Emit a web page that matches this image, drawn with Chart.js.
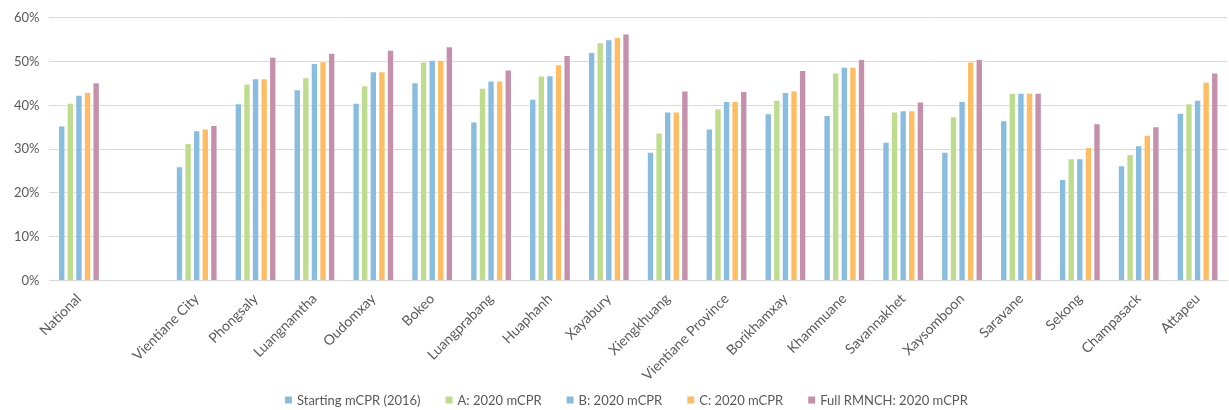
<!DOCTYPE html>
<html>
<head>
<meta charset="utf-8">
<script src="https://cdn.jsdelivr.net/npm/chart.js@4"></script>
<style>
  html, body { margin: 0; padding: 0; background: #ffffff; }
  #wrap { width: 1229px; height: 410px; }
</style>
</head>
<body>
<div id="wrap"><canvas id="c" width="1229" height="410"></canvas></div>
<script>
// Provinces of Lao PDR (blank slot separates the national figure)
const categories = ['National', '', 'Vientiane City', 'Phongsaly', 'Luangnamtha', 'Oudomxay', 'Bokeo',
  'Luangprabang', 'Huaphanh', 'Xayabury', 'Xiengkhuang', 'Vientiane Province', 'Borikhamxay',
  'Khammuane', 'Savannakhet', 'Xaysomboon', 'Saravane', 'Sekong', 'Champasack', 'Attapeu'];

// mCPR values, percent
const startingMcpr2016 = [35.4, null, 26.1, 40.5, 43.7, 40.6, 45.3, 36.3, 41.5, 52.2, 29.4, 34.7, 38.2, 37.8, 31.7, 29.4, 36.6, 23.2, 26.3, 38.3];
const scenarioA2020    = [40.6, null, 31.4, 45.0, 46.4, 44.6, 50.0, 44.0, 46.8, 54.4, 33.8, 39.3, 41.3, 47.5, 38.6, 37.5, 42.9, 27.9, 28.9, 40.5];
const scenarioB2020    = [42.4, null, 34.3, 46.2, 49.7, 47.8, 50.4, 45.7, 46.9, 55.1, 38.6, 41.0, 43.05, 48.8, 38.9, 41.0, 42.9, 27.9, 30.9, 41.3];
const scenarioC2020    = [43.05, null, 34.7, 46.2, 50.1, 47.8, 50.4, 45.7, 49.4, 55.6, 38.6, 41.0, 43.4, 48.8, 38.9, 50.0, 42.9, 30.5, 33.3, 45.4];
const fullRmnch2020    = [45.25, null, 35.5, 51.1, 52.0, 52.7, 53.5, 48.2, 51.5, 56.4, 43.4, 43.3, 48.1, 50.6, 40.9, 50.6, 42.9, 35.9, 35.2, 47.5];

const seriesNames = ['Starting mCPR (2016)', 'A: 2020 mCPR', 'B: 2020 mCPR', 'C: 2020 mCPR', 'Full RMNCH: 2020 mCPR'];
const yTicks = [0, 10, 20, 30, 40, 50, 60];

const colors = ['#89bddf', '#bddc8d', '#89bddf', '#febd62', '#c590ac'];
const values = [startingMcpr2016, scenarioA2020, scenarioB2020, scenarioC2020, fullRmnch2020];

const fontFamily = 'Lato, "Open Sans", "DejaVu Sans", sans-serif';
const textColor = '#595959';

// Single-row legend along the bottom edge, drawn from the dataset list
const bottomLegend = {
  id: 'bottomLegend',
  afterDraw(chart) {
    const ctx = chart.ctx;
    const box = 7, boxGap = 5, itemGap = 25;
    ctx.save();
    ctx.font = '13px ' + fontFamily;
    const items = chart.data.datasets.map(ds => {
      const tw = ctx.measureText(ds.label).width;
      return { label: ds.label, color: ds.backgroundColor, w: box + boxGap + tw };
    });
    const total = items.reduce((s, it) => s + it.w, 0) + itemGap * (items.length - 1);
    const plotCenter = (chart.chartArea.left + chart.chartArea.right) / 2;
    const center = (chart.width / 2 + plotCenter) / 2;
    const y = chart.height - 9;
    let x = center - total / 2;
    ctx.textBaseline = 'middle';
    ctx.textAlign = 'left';
    items.forEach(it => {
      ctx.fillStyle = it.color;
      ctx.fillRect(x, y - box / 2 - 1, box, box);
      ctx.fillStyle = textColor;
      ctx.fillText(it.label, x + box + boxGap, y);
      x += it.w + itemGap;
    });
    ctx.restore();
  }
};

new Chart(document.getElementById('c'), {
  type: 'bar',
  data: {
    labels: categories,
    datasets: values.map((v, i) => ({
      label: seriesNames[i],
      data: v,
      backgroundColor: colors[i],
      borderColor: 'rgba(255,255,255,0.6)',
      borderWidth: 1,
      categoryPercentage: 0.73,
      barPercentage: 0.86
    }))
  },
  options: {
    responsive: false,
    animation: false,
    devicePixelRatio: 1,
    layout: { padding: { top: 10, right: 2, left: 4, bottom: 24 } },
    plugins: {
      legend: { display: false },
      tooltip: { enabled: false }
    },
    scales: {
      x: {
        grid: { display: false },
        border: { display: true, color: '#d9d9d9', width: 1 },
        ticks: {
          autoSkip: false,
          minRotation: 45,
          maxRotation: 45,
          color: textColor,
          padding: 2,
          font: { family: fontFamily, size: 14 }
        }
      },
      y: {
        min: 0,
        max: 60,
        afterBuildTicks: (axis) => { axis.ticks = yTicks.map(v => ({ value: v })); },
        grid: { color: '#d9d9d9', lineWidth: 1, drawTicks: false },
        border: { display: false },
        ticks: {
          color: textColor,
          padding: 10,
          font: { family: fontFamily, size: 13 },
          callback: (v) => v + '%'
        }
      }
    }
  },
  plugins: [bottomLegend]
});
</script>
</body>
</html>
